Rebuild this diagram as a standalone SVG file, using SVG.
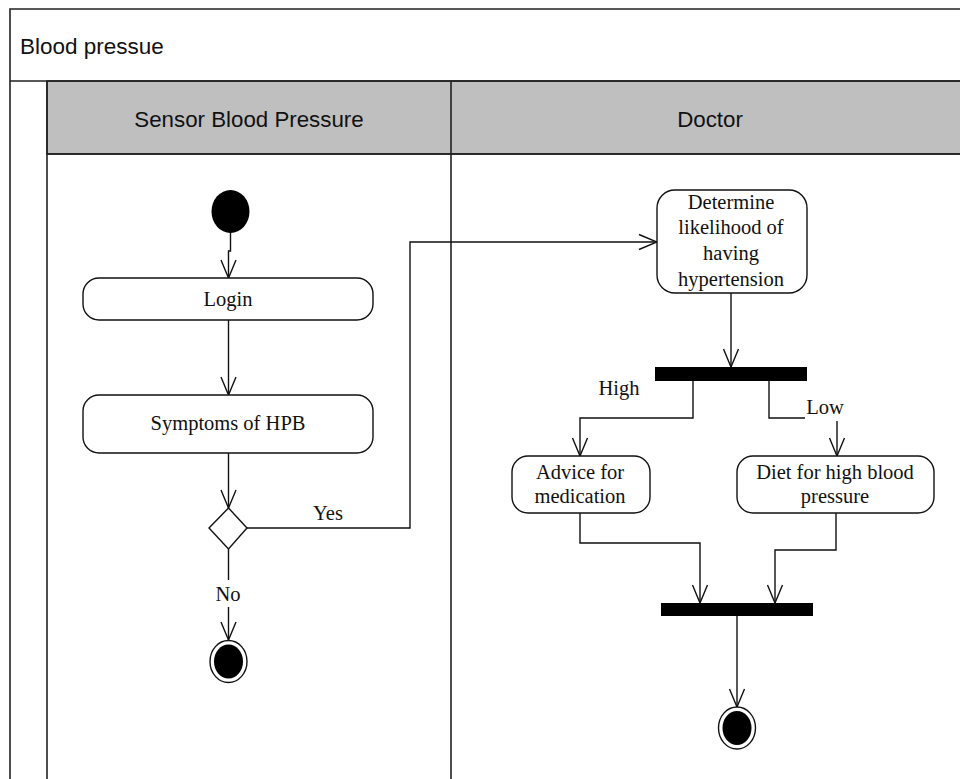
<svg xmlns="http://www.w3.org/2000/svg" width="960" height="779" viewBox="0 0 960 779">
  <style>
    .frame { fill: none; stroke: #222; stroke-width: 1.6; }
    .hdr { fill: #bfbfbf; stroke: #222; stroke-width: 1.6; }
    .lane-title { font-family: "Liberation Sans", Arial, sans-serif; font-size: 22.3px; fill: #111; text-anchor: middle; }
    .pool-title { font-family: "Liberation Sans", Arial, sans-serif; font-size: 22.5px; fill: #111; }
    .action { fill: #fff; stroke: #111; stroke-width: 1.4; }
    .label { font-family: "Liberation Serif", "Times New Roman", serif; font-size: 20.5px; fill: #111; text-anchor: middle; }
    .edge { fill: none; stroke: #111; stroke-width: 1.4; }
    .bar { fill: #000; }
    .dot { fill: #000; }
  </style>
  <defs>
    <marker id="open-arrow" markerUnits="userSpaceOnUse" markerWidth="20" markerHeight="18" viewBox="-19 -9 20 18" refX="0" refY="0" orient="auto">
      <path d="M-18,-7.5 L0,0 L-18,7.5" fill="none" stroke="#111" stroke-width="1.4"/>
    </marker>
  </defs>

  <rect width="960" height="779" fill="#fff"/>

  <!-- swimlane frame -->
  <g id="pool">
    <rect class="hdr" x="47" y="81" width="920" height="73"/>
    <path class="frame" d="M10,790 V9 H970 M10,81 H970 M47,81 V790 M451,81 V790 M47,154 H970"/>
    <text class="pool-title" x="20" y="54">Blood pressue</text>
    <text class="lane-title" x="249" y="127">Sensor Blood Pressure</text>
    <text class="lane-title" x="710" y="127">Doctor</text>
  </g>

  <!-- connectors -->
  <g id="connectors">
    <path class="edge" d="M230.5,233 V251 H228.5 V278" marker-end="url(#open-arrow)"/>
    <path class="edge" d="M228.5,320 V395" marker-end="url(#open-arrow)"/>
    <path class="edge" d="M228.5,453 V508" marker-end="url(#open-arrow)"/>
    <path class="edge" d="M247,528 H410 V242 H657" marker-end="url(#open-arrow)"/>
    <path class="edge" d="M228.5,549 V580"/>
    <path class="edge" d="M228.5,607 V640" marker-end="url(#open-arrow)"/>
    <path class="edge" d="M731,293 V367" marker-end="url(#open-arrow)"/>
    <path class="edge" d="M693,381 V418 H580 V456" marker-end="url(#open-arrow)"/>
    <path class="edge" d="M769,381 V418 H805"/>
    <path class="edge" d="M837,421 V456" marker-end="url(#open-arrow)"/>
    <path class="edge" d="M580,513 V543 H700 V603" marker-end="url(#open-arrow)"/>
    <path class="edge" d="M836,513 V550 H775 V603" marker-end="url(#open-arrow)"/>
    <path class="edge" d="M737,616 V707" marker-end="url(#open-arrow)"/>
    <text class="label" x="328" y="520">Yes</text>
    <text class="label" x="228" y="601">No</text>
    <text class="label" x="619" y="395">High</text>
    <text class="label" x="825" y="414">Low</text>
  </g>

  <!-- nodes -->
  <g id="start">
    <ellipse class="dot" cx="230.5" cy="211.5" rx="19" ry="21.5"/>
  </g>
  <g id="login">
    <rect class="action" x="83" y="278" width="290" height="42" rx="16"/>
    <text class="label" x="228" y="306">Login</text>
  </g>
  <g id="symptoms">
    <rect class="action" x="83" y="395" width="290" height="58" rx="16"/>
    <text class="label" x="228" y="430">Symptoms of HPB</text>
  </g>
  <g id="decision">
    <polygon class="action" points="228.5,508 247,528 228.5,549 209,528"/>
  </g>
  <g id="end-sensor">
    <ellipse cx="228.5" cy="661.5" rx="18.5" ry="21" fill="#fff" stroke="#111" stroke-width="1.4"/>
    <ellipse class="dot" cx="228.5" cy="661.5" rx="14.5" ry="17"/>
  </g>
  <g id="determine">
    <rect class="action" x="657" y="190" width="150" height="103" rx="18"/>
    <text class="label" x="731" y="209">Determine</text>
    <text class="label" x="731" y="234">likelihood of</text>
    <text class="label" x="731" y="260">having</text>
    <text class="label" x="731" y="286">hypertension</text>
  </g>
  <g id="fork">
    <rect class="bar" x="655" y="367" width="152" height="14"/>
  </g>
  <g id="advice">
    <rect class="action" x="512" y="456" width="138" height="57" rx="16"/>
    <text class="label" x="580" y="479">Advice for</text>
    <text class="label" x="580" y="503">medication</text>
  </g>
  <g id="diet">
    <rect class="action" x="737" y="456" width="197" height="57" rx="16"/>
    <text class="label" x="835" y="479">Diet for high blood</text>
    <text class="label" x="835" y="503">pressure</text>
  </g>
  <g id="join">
    <rect class="bar" x="661" y="603" width="152" height="13"/>
  </g>
  <g id="end-doctor">
    <ellipse cx="737" cy="728" rx="18.5" ry="21" fill="#fff" stroke="#111" stroke-width="1.4"/>
    <ellipse class="dot" cx="737" cy="728" rx="14.5" ry="17"/>
  </g>
</svg>
